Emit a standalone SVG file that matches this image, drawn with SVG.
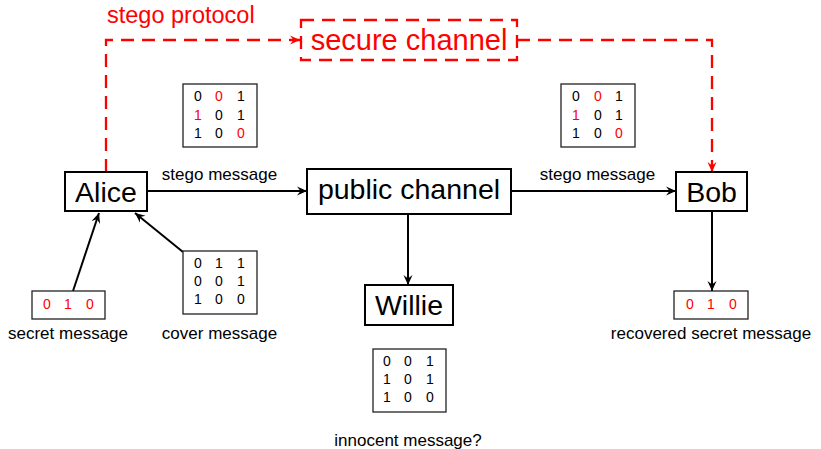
<svg xmlns="http://www.w3.org/2000/svg" width="821" height="449" viewBox="0 0 821 449">
<style>
text{font-family:"Liberation Sans",Arial,sans-serif;}
.node{fill:#fff;stroke:#000;stroke-width:2;}
.big{font-size:28.5px;text-anchor:middle;fill:#000;}
.lbl{font-size:17px;text-anchor:middle;fill:#000;}
.mat{fill:#fff;stroke:#222;stroke-width:1.3;}
.d{font-size:14px;text-anchor:middle;fill:#000;}
.r{fill:#ff0000;}
.conn{fill:none;stroke:#000;stroke-width:2;}
.dash{fill:none;stroke:#ff0000;stroke-width:2.3;stroke-dasharray:13 8;}
</style>
<defs>
<marker id="ah" markerUnits="userSpaceOnUse" markerWidth="14" markerHeight="12" viewBox="-11 -6 12 12" refX="0" refY="0" orient="auto">
<path d="M0,0 L-10,-4.5 L-6.5,0 L-10,4.5 Z" fill="#000"/>
</marker>
<marker id="ahr" markerUnits="userSpaceOnUse" markerWidth="14" markerHeight="12" viewBox="-11 -6 12 12" refX="0" refY="0" orient="auto">
<path d="M0,0 L-10,-4.5 L-6.5,0 L-10,4.5 Z" fill="#ff0000"/>
</marker>
</defs>

<g id="connectors">
<path class="dash" d="M106,172 V40 H300" marker-end="url(#ahr)"/>
<path class="dash" d="M517,40 H712 V172" marker-end="url(#ahr)"/>
<line class="conn" x1="147" y1="191" x2="307" y2="191" marker-end="url(#ah)"/>
<line class="conn" x1="511" y1="191" x2="676" y2="191" marker-end="url(#ah)"/>
<line class="conn" x1="408" y1="214" x2="408" y2="285" marker-end="url(#ah)"/>
<line class="conn" x1="712" y1="211" x2="712" y2="291" marker-end="url(#ah)"/>
<line class="conn" x1="73" y1="291" x2="99" y2="213" marker-end="url(#ah)"/>
<line class="conn" x1="183" y1="252" x2="135" y2="213" marker-end="url(#ah)"/>
<text x="219.5" y="180" class="lbl">stego message</text>
<text x="597.5" y="180" class="lbl">stego message</text>
<text x="107" y="23" style="font-size:23.5px;fill:#ff0000;">stego protocol</text>
</g>

<g id="secure-channel">
<rect class="dash" x="301" y="20" width="216" height="40"/>
<text x="409" y="50" style="font-size:29px;text-anchor:middle;fill:#ff0000;">secure channel</text>
</g>

<g id="alice">
<rect class="node" x="65" y="172" width="82" height="39"/>
<text x="106" y="202" class="big">Alice</text>
</g>

<g id="public-channel">
<rect class="node" x="307" y="169" width="204" height="45"/>
<text x="409" y="199" class="big">public channel</text>
</g>

<g id="bob">
<rect class="node" x="676" y="172" width="71" height="39"/>
<text x="711.5" y="202" class="big">Bob</text>
</g>

<g id="willie">
<rect class="node" x="365" y="285" width="88" height="40"/>
<text x="409" y="315" class="big">Willie</text>
</g>

<g id="stego-matrix-left">
<rect class="mat" x="183" y="84" width="74" height="63"/>
<text class="d" x="198" y="101">0</text><text class="d r" x="219" y="101">0</text><text class="d" x="241" y="101">1</text>
<text class="d r" x="198" y="119.5">1</text><text class="d" x="219" y="119.5">0</text><text class="d" x="241" y="119.5">1</text>
<text class="d" x="198" y="138">1</text><text class="d" x="219" y="138">0</text><text class="d r" x="241" y="138">0</text>
</g>

<g id="stego-matrix-right">
<rect class="mat" x="561" y="84" width="74" height="63"/>
<text class="d" x="576" y="101">0</text><text class="d r" x="598" y="101">0</text><text class="d" x="619" y="101">1</text>
<text class="d r" x="576" y="119.5">1</text><text class="d" x="598" y="119.5">0</text><text class="d" x="619" y="119.5">1</text>
<text class="d" x="576" y="138">1</text><text class="d" x="598" y="138">0</text><text class="d r" x="619" y="138">0</text>
</g>

<g id="cover-message">
<rect class="mat" x="183" y="251" width="74" height="63"/>
<text class="d" x="198" y="268">0</text><text class="d" x="219" y="268">1</text><text class="d" x="241" y="268">1</text>
<text class="d" x="198" y="286">0</text><text class="d" x="219" y="286">0</text><text class="d" x="241" y="286">1</text>
<text class="d" x="198" y="304">1</text><text class="d" x="219" y="304">0</text><text class="d" x="241" y="304">0</text>
<text x="219.5" y="339" class="lbl">cover message</text>
</g>

<g id="secret-message">
<rect class="mat" x="32" y="291" width="73" height="28"/>
<text class="d r" x="47" y="309">0</text><text class="d r" x="68" y="309">1</text><text class="d r" x="90" y="309">0</text>
<text x="68" y="339" class="lbl">secret message</text>
</g>

<g id="recovered-message">
<rect class="mat" x="674" y="291" width="74" height="28"/>
<text class="d r" x="690" y="309">0</text><text class="d r" x="711" y="309">1</text><text class="d r" x="733" y="309">0</text>
<text x="711" y="339" class="lbl">recovered secret message</text>
</g>

<g id="innocent-message">
<rect class="mat" x="373" y="349" width="73" height="63"/>
<text class="d" x="387" y="366">0</text><text class="d" x="408" y="366">0</text><text class="d" x="430" y="366">1</text>
<text class="d" x="387" y="384">1</text><text class="d" x="408" y="384">0</text><text class="d" x="430" y="384">1</text>
<text class="d" x="387" y="402">1</text><text class="d" x="408" y="402">0</text><text class="d" x="430" y="402">0</text>
<text x="408" y="446" class="lbl">innocent message?</text>
</g>
</svg>
